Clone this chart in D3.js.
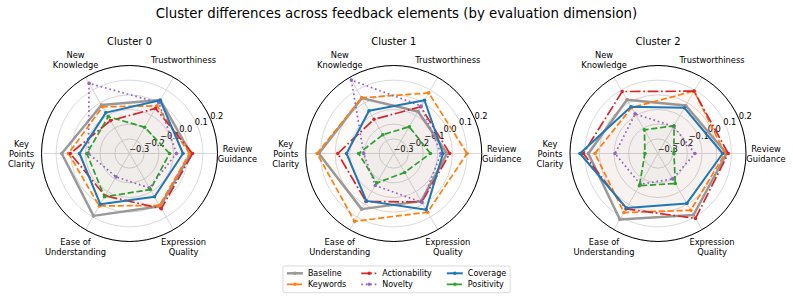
<!DOCTYPE html>
<html>
<head>
<meta charset="utf-8">
<script src="https://cdn.jsdelivr.net/npm/d3@7"></script>
<style>
  body { margin: 0; background: #fff; }
  text { font-family: 'DejaVu Sans', sans-serif; fill: #000; }
</style>
</head>
<body>
<script>
const title = 'Cluster differences across feedback elements (by evaluation dimension)'
const dimensions = ['Review\nGuidance', 'Trustworthiness', 'New\nKnowledge', 'Key\nPoints\nClarity', 'Ease of\nUnderstanding', 'Expression\nQuality']
const clusters = ['Cluster 0', 'Cluster 1', 'Cluster 2']
const seriesNames = ['Baseline', 'Keywords', 'Actionability', 'Novelty', 'Coverage', 'Positivity']
const rTicks = [-0.3, -0.2, -0.1, 0.0, 0.1, 0.2]

// one row per cluster, values in dimension order
const baseline = [
  [0.018, 0.021, -0.018, 0.062, 0.091, 0.016],
  [-0.037, -0.069, 0.036, 0.111, 0.038, -0.025],
  [0.068, -0.022, 0.023, 0.075, 0.120, 0.084]
]
const keywords = [
  [0.009, -0.025, -0.032, 0.016, 0.013, 0.009],
  [0.100, 0.077, 0.038, 0.123, 0.134, 0.062],
  [0.057, 0.092, -0.039, 0.030, 0.065, 0.047]
]
const actionability = [
  [0.030, -0.045, -0.141, 0.004, -0.067, 0.034],
  [-0.018, -0.032, -0.131, -0.018, -0.022, -0.018],
  [0.079, 0.091, 0.088, 0.109, 0.036, 0.111]
]
const novelty = [
  [-0.080, 0.000, 0.152, -0.120, -0.216, -0.129],
  [-0.078, -0.026, 0.178, -0.195, -0.148, -0.015],
  [-0.148, -0.187, -0.088, -0.107, -0.158, -0.200]
]
const coverage = [
  [-0.035, 0.019, -0.078, -0.059, -0.001, -0.059],
  [-0.064, 0.019, -0.063, -0.078, -0.027, 0.042],
  [0.041, -0.040, -0.032, 0.132, 0.030, -0.007]
]
const positivity = [
  [-0.127, -0.193, -0.110, -0.109, -0.059, -0.116],
  [-0.150, -0.189, -0.252, -0.161, -0.168, -0.251],
  [-0.291, -0.182, -0.214, -0.311, -0.146, -0.164]
]

const seriesData = [baseline, keywords, actionability, novelty, coverage, positivity]
const styles = [
  { color: '#999999', width: 2.5, dash: null },
  { color: '#ff7f0e', width: 1.7, dash: '6.2,2.7' },
  { color: '#d62728', width: 1.7, dash: '10.7,2.7,1.7,2.7' },
  { color: '#9467bd', width: 1.7, dash: '1.7,2.8' },
  { color: '#1f77b4', width: 2, dash: null },
  { color: '#2ca02c', width: 1.7, dash: '6.2,2.7' }
]

const W = 793, H = 298, R = 88
const svg = d3.select('body').append('svg').attr('width', W).attr('height', H)

svg.append('text')
  .attr('x', W / 2).attr('y', 18)
  .attr('text-anchor', 'middle')
  .attr('font-size', 13.3)
  .text(title)

const r = d3.scaleLinear().domain([-0.4, 0.2]).range([0, R])
// d3 radial angle: clockwise from 12 o'clock, first dimension at 3 o'clock, going counter-clockwise
const angle = d3.scaleLinear().domain([0, dimensions.length]).range([Math.PI / 2, Math.PI / 2 - 2 * Math.PI])
const labelR = d3.scaleLinear().domain([-0.3, 0.2]).range([10.6, 95.2])
const cx = d3.scaleLinear().domain([0, 2]).range([129.5, 658])
const cy = 153.5

const line = d3.lineRadial()
  .angle((d, i) => angle(i))
  .radius(d => r(d))
  .curve(d3.curveLinearClosed)

const px = (a, rad) => [rad * Math.sin(a), -rad * Math.cos(a)]

clusters.forEach((name, ci) => {
  const g = svg.append('g').attr('transform', `translate(${cx(ci)},${cy})`)

  g.append('circle').attr('r', R).attr('fill', '#fff')

  g.selectAll('.grid').data(rTicks).enter().append('circle')
    .attr('r', d => r(d))
    .attr('fill', 'none')
    .attr('stroke', '#cfcfcf')
    .attr('stroke-width', 0.8)

  g.selectAll('.spoke').data(dimensions).enter().append('line')
    .attr('x1', 0).attr('y1', 0)
    .attr('x2', (d, i) => px(angle(i), R)[0])
    .attr('y2', (d, i) => px(angle(i), R)[1])
    .attr('stroke', '#cfcfcf')
    .attr('stroke-width', 0.8)

  const la = Math.PI / 2 - 23.5 * Math.PI / 180
  g.selectAll('.rlab').data(rTicks).enter().append('text')
    .attr('x', d => px(la, labelR(d))[0])
    .attr('y', d => px(la, labelR(d))[1])
    .attr('text-anchor', 'middle')
    .attr('dominant-baseline', 'central')
    .attr('font-size', 8.3)
    .text(d => d3.format('.1f')(d).replace('-', '\u2212'))

  seriesData.forEach((sd, si) => {
    const vals = sd[ci], st = styles[si]
    g.append('path')
      .attr('d', line(vals))
      .attr('fill', st.color)
      .attr('fill-opacity', 0.025)
      .attr('stroke', st.color)
      .attr('stroke-width', st.width)
      .attr('stroke-dasharray', st.dash)
      .attr('stroke-linejoin', 'round')
    g.selectAll(null).data(vals).enter().append('circle')
      .attr('cx', (d, i) => px(angle(i), r(d))[0])
      .attr('cy', (d, i) => px(angle(i), r(d))[1])
      .attr('r', 1.8)
      .attr('fill', st.color)
  })

  g.append('circle').attr('r', R).attr('fill', 'none').attr('stroke', '#000').attr('stroke-width', 1)

  dimensions.forEach((dim, i) => {
    const [x, y] = px(angle(i), 108)
    const lines = dim.split('\n')
    const t = g.append('text')
      .attr('text-anchor', 'middle')
      .attr('font-size', 8.3)
    lines.forEach((l, li) => {
      t.append('tspan')
        .attr('x', x)
        .attr('y', y + (li - (lines.length - 1) / 2) * 10 + 3)
        .text(l)
    })
  })

  g.append('text')
    .attr('x', 0).attr('y', -109)
    .attr('text-anchor', 'middle')
    .attr('font-size', 10)
    .text(name)
})

// legend, 3 columns x 2 rows, filled column by column
const leg = svg.append('g')
const legBox = leg.append('rect')
const rows = 2, handle = 16, gap = 5, colGap = 15
let x0 = 0
const cols = d3.range(Math.ceil(seriesNames.length / rows))
cols.forEach(c => {
  let maxW = 0
  d3.range(rows).forEach(rI => {
    const si = c * rows + rI
    if (si >= seriesNames.length) return
    const st = styles[si], yy = rI * 11
    leg.append('line')
      .attr('x1', x0).attr('x2', x0 + handle).attr('y1', yy).attr('y2', yy)
      .attr('stroke', st.color).attr('stroke-width', st.width)
      .attr('stroke-dasharray', st.dash)
    leg.append('circle').attr('cx', x0 + handle / 2).attr('cy', yy).attr('r', 1.8).attr('fill', st.color)
    const t = leg.append('text')
      .attr('x', x0 + handle + gap).attr('y', yy)
      .attr('dominant-baseline', 'central')
      .attr('font-size', 8)
      .text(seriesNames[si])
    maxW = Math.max(maxW, t.node().getComputedTextLength())
  })
  x0 += handle + gap + maxW + colGap
})
const legW = x0 - colGap
leg.attr('transform', `translate(${W / 2 - legW / 2},273.3)`)
legBox.attr('x', -4).attr('y', -7.3).attr('width', legW + 8).attr('height', 26.7)
  .attr('rx', 2).attr('fill', '#fff').attr('fill-opacity', 0.8)
  .attr('stroke', '#d0d0d0').attr('stroke-width', 0.8)
</script>
</body>
</html>
